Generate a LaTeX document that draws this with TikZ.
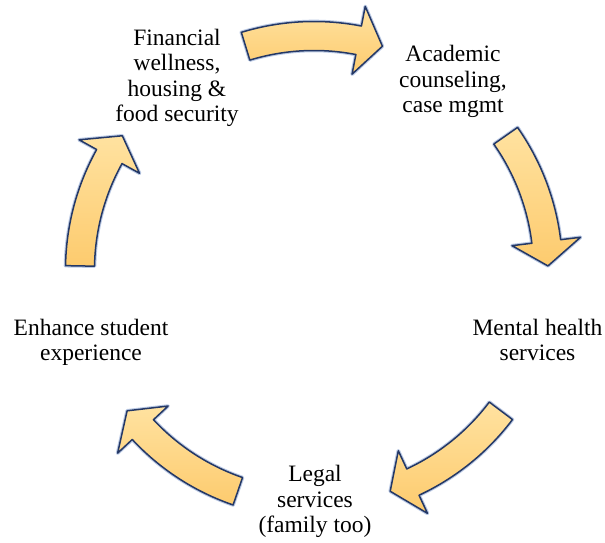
\documentclass[tikz,border=0pt]{standalone}
\usepackage{fontspec}
\setmainfont{Liberation Serif}
\definecolor{arrtop}{RGB}{255,226,160}
\definecolor{arrbot}{RGB}{253,203,110}
\definecolor{arredge}{RGB}{36,56,102}
\definecolor{arrglow}{RGB}{140,165,210}
\tikzset{
  cyc/.style={top color=arrtop, bottom color=arrbot, draw=arredge, line width=1.5pt, line join=round,
    preaction={draw=arrglow, line width=3.6pt, line join=round, opacity=0.6}},
  lbl/.style={align=center, inner sep=0pt, anchor=base, font=\fontsize{23.5}{25.6}\selectfont}
}
\newcommand\cyclearrow[1]{%
  \pgfmathsetmacro\ta{#1+17}%
  \pgfmathsetmacro\hb{#1-11}%
  \pgfmathsetmacro\tp{#1-17}%
  \path[cyc] ([shift={(\ta:219.5)}]C) arc[start angle=\ta, end angle=\hb, radius=219.5]
    -- ([shift={(\hb:199.5)}]C) -- ([shift={(\tp:234)}]C) -- ([shift={(\hb:268.5)}]C)
    -- ([shift={(\hb:248.5)}]C) arc[start angle=\hb, end angle=\ta, radius=248.5] -- cycle;}
\begin{document}
\begin{tikzpicture}[x=1pt,y=1pt]
\useasboundingbox (0,0) rectangle (605,543);
\coordinate (C) at (314,273);
\cyclearrow{90}
\cyclearrow{18}
\cyclearrow{-54}
\cyclearrow{-126}
\cyclearrow{162}
% anchor=base is the baseline of the last line
\node[lbl] (fin) at (177,421) {Financial\\wellness,\\housing \&\\food security};
\node[lbl] (acad) at (453,430) {Academic\\counseling,\\case mgmt};
\node[lbl] (ment) at (537.5,182) {Mental health\\services};
\node[lbl] (legal) at (315,10) {Legal\\services\\(family too)};
\node[lbl] (enh) at (91,182) {Enhance student\\experience};
\end{tikzpicture}
\end{document}
